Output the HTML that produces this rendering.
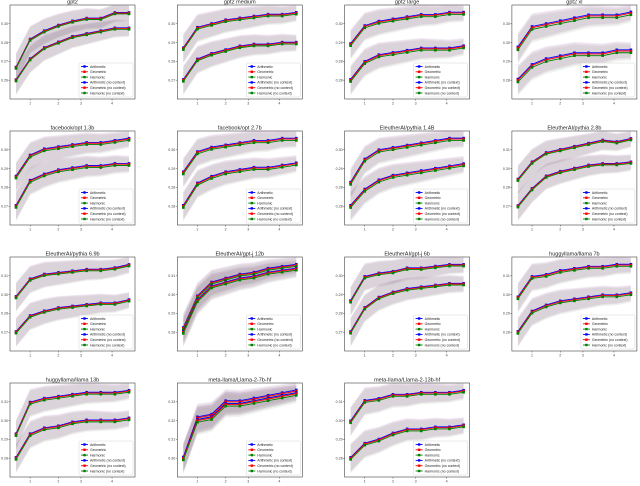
<!DOCTYPE html>
<html><head><meta charset="utf-8"><style>
html,body{margin:0;padding:0;background:#fff;width:640px;height:486px;overflow:hidden}
svg{display:block}
text{font-family:"Liberation Sans",sans-serif}
</style></head><body>
<svg id="fig" width="640" height="486" viewBox="0 0 640 486"></svg>
<script>
const titles=["gpt2","gpt2 medium","gpt2 large","gpt2 xl","facebook/opt 1.3b","facebook/opt 2.7b","EleutherAI/pythia 1.4B","EleutherAI/pythia 2.8b","EleutherAI/pythia 6.9b","EleutherAI/gpt-j 12b","EleutherAI/gpt-j 6b","huggyllama/llama 7b","huggyllama/llama 13b","meta-llama/Llama-2-7b-hf","meta-llama/Llama-2-13b-hf"];
const upper=[
[0.264,0.284,0.290,0.294,0.297,0.299,0.299,0.303,0.303],
[0.287,0.298,0.300,0.302,0.303,0.304,0.305,0.305,0.306],
[0.292,0.300,0.302,0.303,0.304,0.305,0.305,0.306,0.306],
[0.295,0.302,0.303,0.304,0.305,0.306,0.306,0.306,0.307],
[0.287,0.297,0.300,0.301,0.302,0.303,0.303,0.304,0.305],
[0.290,0.299,0.301,0.302,0.303,0.304,0.304,0.305,0.305],
[0.285,0.295,0.299,0.300,0.301,0.302,0.303,0.304,0.304],
[0.288,0.299,0.305,0.307,0.309,0.311,0.313,0.312,0.314],
[0.294,0.305,0.308,0.309,0.310,0.311,0.311,0.312,0.314],
[0.282,0.298,0.305,0.307,0.309,0.310,0.312,0.313,0.314],
[0.290,0.304,0.306,0.307,0.309,0.309,0.310,0.311,0.311],
[0.296,0.306,0.307,0.309,0.310,0.311,0.311,0.312,0.312],
[0.290,0.306,0.308,0.309,0.310,0.311,0.311,0.311,0.312],
[0.304,0.319,0.320,0.325,0.325,0.326,0.327,0.328,0.329],
[0.296,0.306,0.307,0.309,0.309,0.310,0.310,0.310,0.311]];
const lower=[
[0.255,0.270,0.278,0.282,0.286,0.288,0.290,0.292,0.292],
[0.270,0.281,0.284,0.286,0.288,0.289,0.289,0.290,0.290],
[0.276,0.284,0.287,0.288,0.289,0.290,0.290,0.290,0.291],
[0.284,0.289,0.291,0.292,0.293,0.293,0.293,0.294,0.294],
[0.273,0.285,0.288,0.290,0.291,0.292,0.292,0.293,0.293],
[0.275,0.285,0.288,0.290,0.291,0.292,0.292,0.293,0.294],
[0.275,0.282,0.286,0.288,0.289,0.290,0.291,0.292,0.293],
[0.271,0.282,0.290,0.293,0.295,0.297,0.298,0.298,0.299],
[0.272,0.282,0.285,0.287,0.288,0.289,0.290,0.290,0.292],
[0.280,0.296,0.303,0.305,0.307,0.308,0.310,0.311,0.312],
[0.272,0.286,0.292,0.295,0.297,0.298,0.299,0.300,0.300],
[0.279,0.289,0.292,0.294,0.295,0.296,0.297,0.297,0.298],
[0.278,0.290,0.293,0.294,0.296,0.297,0.297,0.297,0.298],
[0.304,0.318,0.319,0.324,0.324,0.325,0.326,0.327,0.328],
[0.278,0.285,0.287,0.290,0.292,0.292,0.293,0.293,0.294]];
const methodNames=["Arithmetic","Geometric","Harmonic","Arithmetic (no context)","Geometric (no context)","Harmonic (no context)"];
const methodOffset=[0.0004,0,-0.0006];
const xTickLabels=["1","2","3","4"];
const xTickIdx=[1,3,4.6,6.8];
</script>
<script>
const NS="http://www.w3.org/2000/svg";
const svg=document.getElementById('fig');
const colors=["#0000ff","#ff0000","#008000"];
const bandCol=['#8a6aa8','#b07090','#80a080'];
function mk(tag,attrs,parent){const e=document.createElementNS(NS,tag);for(const k in attrs)e.setAttribute(k,attrs[k]);(parent||svg).appendChild(e);return e;}
const defs=mk('defs',{});
const BW=125,BH=94;
titles.forEach((t,p)=>{
  const col=p%4,row=Math.floor(p/4);
  const ox=10+col*167.3,oy=5+row*126;
  const g=mk('g',{});
  
  
  const dmin=Math.min(...lower[p],...upper[p]),dmax=Math.max(...lower[p],...upper[p]);
  const span=dmax-dmin;
  const lo=dmin-0.28*span,hi=dmax+0.12*span;
  const xs=i=>ox+6+i*(BW-12)/8;
  const ys=v=>oy+BH-(v-lo)/(hi-lo)*BH;
  const cp=mk('clipPath',{id:'c'+p},defs);
  mk('rect',{x:ox,y:oy,width:BW,height:BH},cp);
  const frame=mk('rect',{x:ox,y:oy,width:BW,height:BH,fill:'#fff',stroke:'#444','stroke-width':0.6},g);
  
  
  const tt=mk('text',{x:ox+BW/2,y:oy-1.5,'font-size':5.5,'text-anchor':'middle',fill:'#222'},g);
  tt.textContent=t;
  
  
  const step=(hi-lo)/5;
  for(let k=1;k<5;k++){const v=lo+k*step;const y=ys(v);
    mk('line',{x1:ox-1.5,x2:ox,y1:y,y2:y,stroke:'#444','stroke-width':0.5},g);
    const yl=mk('text',{x:ox-2,y:y+1.3,'font-size':3.6,'text-anchor':'end',fill:'#444'},g);
    yl.textContent=v.toFixed(2);
    
    }
  xTickIdx.forEach((ix,k)=>{const x=xs(ix);
    mk('line',{x1:x,x2:x,y1:oy+BH,y2:oy+BH+1.5,stroke:'#444','stroke-width':0.5},g);
    const xl=mk('text',{x:x,y:oy+BH+5.5,'font-size':3.6,'text-anchor':'middle',fill:'#444'},g);
    xl.textContent=xTickLabels[k];
    
    });
  const inner=mk('g',{'clip-path':'url(#c'+p+')'},g);
  [upper[p],lower[p]].forEach((ser,si)=>{
    colors.forEach((c,m)=>{
      const vals=ser.map(v=>v+methodOffset[m]);
      const w=i=>span*0.13*(1.6-i*0.09);
      const top=vals.map((v,i)=>xs(i)+','+ys(v+w(i)));
      const bot=vals.map((v,i)=>xs(i)+','+ys(v-w(i))).reverse();
      const b=mk('polygon',{points:top.concat(bot).join(' '),fill:bandCol[m],'fill-opacity':0.13},inner);
      
      
    });
  });
  [upper[p],lower[p]].forEach((ser,si)=>{
    colors.forEach((c,m)=>{
      const vals=ser.map(v=>v+methodOffset[m]);
      const l=mk('polyline',{points:vals.map((v,i)=>xs(i)+','+ys(v)).join(' '),fill:'none',stroke:c,'stroke-width':0.9},inner);
      
      
      vals.forEach((v,i)=>{const r=mk('rect',{x:xs(i)-1.3,y:ys(v)-1.3,width:2.6,height:2.6,fill:c},inner);
        
        });
    });
  });
  const lx=ox+BW-56,ly=oy+BH-36;
  const lg=mk('g',{},g);
  
  
  mk('rect',{x:lx,y:ly,width:54,height:34,fill:'#fff','fill-opacity':0.85,stroke:'#ccc','stroke-width':0.4,rx:1},lg);
  methodNames.forEach((n,k)=>{const y=ly+3.5+k*5.3;const c=colors[k%3];
    mk('line',{x1:lx+2,x2:lx+9,y1:y,y2:y,stroke:c,'stroke-width':0.9},lg);
    mk('rect',{x:lx+4.3,y:y-1.2,width:2.4,height:2.4,fill:c},lg);
    const e=mk('text',{x:lx+11,y:y+1.3,'font-size':3.5,fill:'#222'},lg);
    e.textContent=n;
    
    });
});
</script>
</body></html>
